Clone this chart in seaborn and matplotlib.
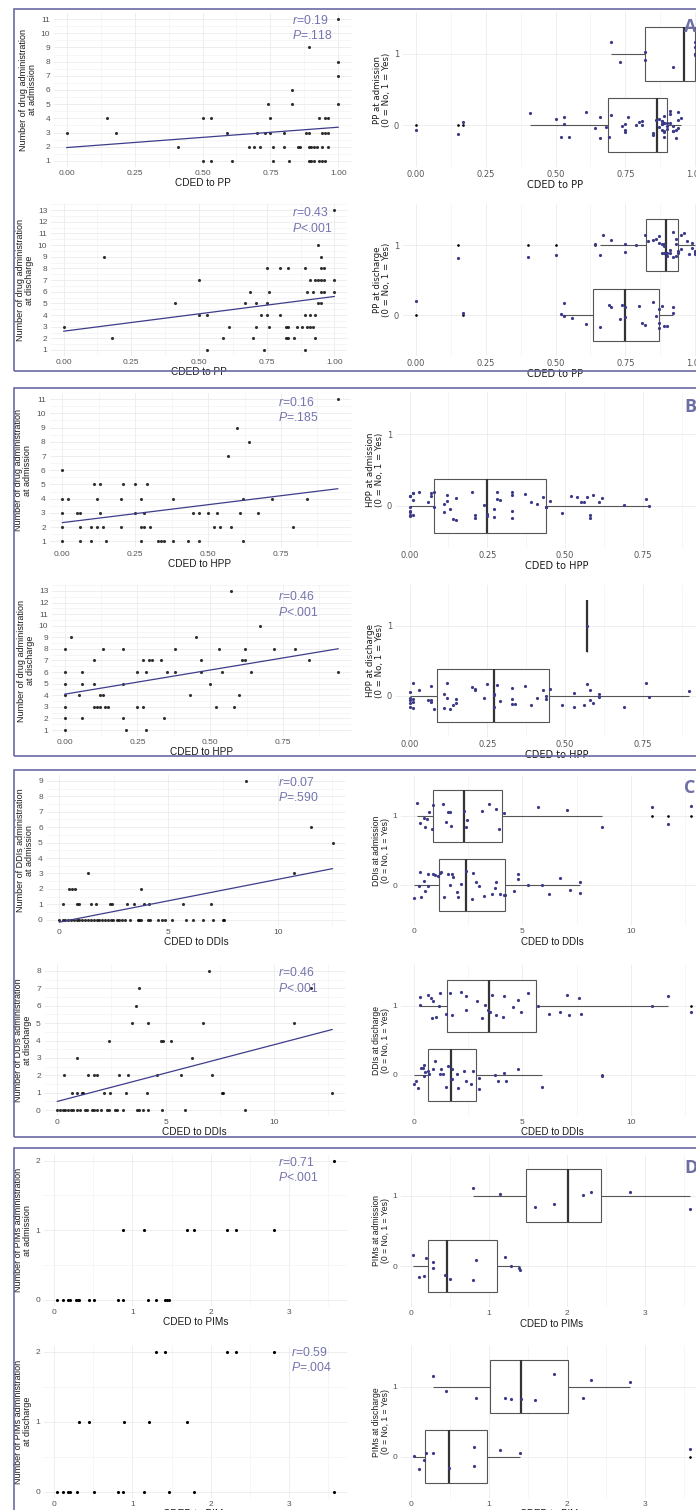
import numpy as np
import pandas as pd
import seaborn as sns
import matplotlib.pyplot as plt
from matplotlib.patches import Rectangle
from matplotlib.ticker import MultipleLocator

# ---------------- data ----------------
# A: CDED to PP
pp_adm_x = [0.00, 0.15, 0.18, 0.41, 0.50, 0.53, 0.50, 0.53, 0.59, 0.61, 0.67, 0.69, 0.71, 0.70, 0.74, 0.73,
            0.75, 0.75, 0.76, 0.76, 0.80, 0.80, 0.82, 0.83, 0.83, 0.85, 0.86, 0.88, 0.89, 0.89, 0.90, 0.91,
            0.92, 0.89, 0.90, 0.91, 0.89, 0.93, 0.93, 0.94, 0.95, 0.94, 0.95, 0.96, 0.94, 0.95, 0.96, 0.96,
            1.00, 1.00, 1.00, 1.00]
pp_adm_y = [3, 4, 3, 2, 4, 4, 1, 1, 3, 1, 2, 2, 2, 3, 5, 3, 3, 4, 2, 1, 3, 2, 1, 6, 5, 2, 2, 3, 3, 2, 2, 2,
            2, 1, 1, 1, 9, 4, 1, 1, 1, 3, 3, 3, 2, 4, 4, 2, 11, 8, 7, 5]
pp_dis_x = [0.00, 0.15, 0.18, 0.41, 0.50, 0.50, 0.53, 0.53, 0.59, 0.61, 0.67, 0.69, 0.70, 0.71, 0.71, 0.73,
            0.74, 0.75, 0.75, 0.75, 0.76, 0.76, 0.80, 0.80, 0.82, 0.83, 0.82, 0.83, 0.83, 0.85, 0.86, 0.88,
            0.89, 0.89, 0.89, 0.90, 0.91, 0.92, 0.90, 0.91, 0.91, 0.92, 0.93, 0.93, 0.93, 0.94, 0.95, 0.96,
            0.94, 0.95, 0.94, 0.95, 0.95, 0.96, 0.95, 0.96, 1.00, 1.00, 1.00]
pp_dis_y = [3, 9, 2, 5, 7, 4, 4, 1, 2, 3, 5, 6, 2, 5, 3, 4, 1, 8, 5, 4, 6, 3, 8, 4, 3, 3, 2, 2, 8, 2, 3, 3,
            8, 4, 1, 3, 3, 3, 6, 4, 7, 6, 4, 2, 7, 7, 7, 7, 10, 9, 5, 5, 8, 8, 6, 6, 13, 7, 6]
pp_adm_yes = [0.70, 0.73, 0.82, 0.82, 0.92, 1.00, 1.00, 1.00, 1.00, 1.00]
pp_adm_no = [0.00, 0.15, 0.17, 0.41, 0.50, 0.52, 0.53, 0.53, 0.55, 0.61, 0.64, 0.66, 0.66, 0.68, 0.69, 0.70,
             0.74, 0.75, 0.75, 0.75, 0.76, 0.79, 0.80, 0.81, 0.81, 0.85, 0.85, 0.86, 0.87, 0.87, 0.88, 0.88,
             0.88, 0.88, 0.88, 0.89, 0.89, 0.89, 0.89, 0.89, 0.89, 0.90, 0.90, 0.90, 0.91, 0.91, 0.91, 0.92,
             0.92, 0.92, 0.93, 0.93, 0.94, 0.94, 0.94, 0.95]
pp_dis_yes = [0.15, 0.40, 0.50, 0.64, 0.66, 0.67, 0.70, 0.75, 0.75, 0.79, 0.82, 0.83, 0.85, 0.86, 0.87, 0.87,
              0.88, 0.88, 0.89, 0.89, 0.89, 0.90, 0.90, 0.91, 0.91, 0.92, 0.92, 0.93, 0.93, 0.93, 0.94, 0.94,
              0.95, 0.95, 0.96, 0.97, 0.98, 0.99, 0.99, 1.00, 1.00, 1.00]
pp_dis_no = [0.00, 0.17, 0.52, 0.53, 0.53, 0.56, 0.61, 0.66, 0.69, 0.70, 0.73, 0.74, 0.75, 0.75, 0.80, 0.81,
             0.82, 0.85, 0.86, 0.87, 0.87, 0.87, 0.88, 0.89, 0.90, 0.92, 0.92]

# B: CDED to HPP
hpp_adm_x = [0.00, 0.00, 0.00, 0.00, 0.00, 0.02, 0.05, 0.06, 0.06, 0.06, 0.10, 0.10, 0.11, 0.12, 0.12, 0.13,
             0.13, 0.14, 0.15, 0.20, 0.20, 0.21, 0.25, 0.25, 0.27, 0.27, 0.28, 0.27, 0.28, 0.29, 0.30, 0.33,
             0.34, 0.35, 0.38, 0.38, 0.43, 0.45, 0.47, 0.47, 0.50, 0.52, 0.53, 0.54, 0.57, 0.58, 0.60, 0.61,
             0.62, 0.62, 0.64, 0.67, 0.72, 0.79, 0.84, 0.945]
hpp_adm_y = [6, 4, 3, 2, 1, 4, 3, 3, 2, 1, 2, 1, 5, 4, 2, 5, 3, 2, 1, 4, 2, 5, 5, 3, 4, 2, 2, 1, 3, 5, 2, 1,
             1, 1, 4, 1, 1, 3, 3, 1, 3, 2, 3, 2, 7, 2, 9, 3, 4, 1, 8, 3, 4, 2, 4, 11]
hpp_dis_x = [0.00, 0.00, 0.00, 0.00, 0.00, 0.00, 0.00, 0.02, 0.05, 0.06, 0.06, 0.06, 0.10, 0.10, 0.10, 0.11,
             0.12, 0.12, 0.13, 0.13, 0.14, 0.15, 0.20, 0.20, 0.20, 0.21, 0.25, 0.25, 0.27, 0.27, 0.28, 0.28,
             0.29, 0.30, 0.33, 0.34, 0.35, 0.38, 0.38, 0.43, 0.45, 0.47, 0.47, 0.50, 0.52, 0.53, 0.54, 0.57,
             0.58, 0.60, 0.61, 0.62, 0.62, 0.64, 0.67, 0.72, 0.79, 0.84, 0.94]
hpp_dis_y = [8, 6, 5, 4, 3, 2, 1, 9, 4, 6, 5, 2, 7, 5, 3, 3, 3, 4, 4, 8, 3, 3, 8, 5, 2, 1, 6, 3, 7, 3, 6, 1,
             7, 7, 7, 2, 6, 8, 6, 4, 9, 7, 6, 5, 3, 8, 6, 13, 3, 4, 7, 7, 8, 6, 10, 8, 8, 7, 6]
hpp_adm_yes = [0.945]
hpp_adm_no = [0.00, 0.00, 0.00, 0.00, 0.00, 0.00, 0.00, 0.01, 0.01, 0.01, 0.01, 0.03, 0.06, 0.07, 0.07, 0.08,
              0.08, 0.11, 0.11, 0.12, 0.12, 0.13, 0.14, 0.15, 0.15, 0.20, 0.21, 0.21, 0.24, 0.25, 0.25, 0.27,
              0.27, 0.28, 0.28, 0.29, 0.33, 0.33, 0.33, 0.33, 0.37, 0.39, 0.41, 0.43, 0.44, 0.44, 0.45, 0.49,
              0.52, 0.54, 0.55, 0.56, 0.57, 0.58, 0.58, 0.59, 0.61, 0.62, 0.69, 0.76, 0.77]
hpp_dis_yes = [0.57]
hpp_dis_no = [0.00, 0.00, 0.00, 0.00, 0.00, 0.01, 0.01, 0.01, 0.01, 0.03, 0.06, 0.07, 0.07, 0.07, 0.08, 0.11,
              0.11, 0.12, 0.12, 0.13, 0.14, 0.15, 0.15, 0.20, 0.21, 0.21, 0.24, 0.25, 0.27, 0.27, 0.27, 0.28,
              0.29, 0.33, 0.33, 0.33, 0.34, 0.37, 0.39, 0.41, 0.43, 0.44, 0.44, 0.45, 0.49, 0.53, 0.53, 0.56,
              0.57, 0.58, 0.58, 0.59, 0.61, 0.61, 0.69, 0.76, 0.77, 0.90]

# C: CDED to DDIs
ddi_adm_x = [0.00, 0.15, 0.27, 0.41, 0.53, 0.67, 0.79, 0.92, 1.04, 1.18, 1.30, 1.44, 1.57, 1.71, 1.83, 1.95,
             2.09, 2.21, 2.35, 2.47, 2.62, 2.75, 2.87, 3.02, 3.24, 3.60, 3.66, 3.72, 4.08, 4.15, 4.53, 4.69,
             4.84, 5.18, 5.80, 6.11, 6.60, 7.02, 7.48, 7.54,
             0.15, 0.82, 0.90, 1.45, 1.69, 2.32, 2.40, 3.10, 3.42, 3.88, 4.12, 5.65, 6.95,
             0.46, 0.56, 0.73, 3.76, 1.31, 10.76, 12.52, 11.53, 8.53]
ddi_adm_y = [0, 0, 0, 0, 0, 0, 0, 0, 0, 0, 0, 0, 0, 0, 0, 0, 0, 0, 0, 0, 0, 0, 0, 0, 0, 0, 0, 0, 0, 0, 0, 0,
             0, 0, 0, 0, 0, 0, 0, 0,
             1, 1, 1, 1, 1, 1, 1, 1, 1, 1, 1, 1, 1,
             2, 2, 2, 2, 3, 3, 5, 6, 9]
ddi_dis_x = [0.00, 0.12, 0.25, 0.37, 0.49, 0.62, 0.74, 0.92, 1.05, 1.28, 1.38, 1.58, 1.71, 1.85, 2.02, 2.28,
             2.38, 2.66, 2.74, 3.02, 3.69, 3.78, 3.94, 4.17, 4.83, 5.89, 8.68,
             0.66, 0.89, 1.12, 1.20, 2.17, 2.43, 3.15, 4.12, 7.62, 7.66, 12.69,
             0.31, 1.43, 1.71, 1.82, 2.85, 3.28, 4.58, 5.71, 7.15,
             0.89, 6.20, 2.40, 4.78, 4.89, 5.25, 3.45, 4.17, 6.71, 10.92, 3.63, 3.78, 11.69, 7.02]
ddi_dis_y = [0, 0, 0, 0, 0, 0, 0, 0, 0, 0, 0, 0, 0, 0, 0, 0, 0, 0, 0, 0, 0, 0, 0, 0, 0, 0, 0,
             1, 1, 1, 1, 1, 1, 1, 1, 1, 1, 1,
             2, 2, 2, 2, 2, 2, 2, 2, 2,
             3, 3, 4, 4, 4, 4, 5, 5, 5, 5, 6, 7, 7, 8]
ddi_adm_yes = [0.12, 0.30, 0.48, 0.51, 0.60, 0.69, 0.84, 0.89, 1.32, 1.46, 1.58, 1.67, 1.69, 2.32, 2.38, 2.43,
               3.15, 3.46, 3.76, 3.92, 4.16, 5.73, 7.07, 8.68, 10.97, 11.72, 12.75]
ddi_adm_no = [0.00, 0.23, 0.28, 0.35, 0.46, 0.51, 0.63, 0.66, 0.89, 0.97, 1.12, 1.20, 1.27, 1.38, 1.58, 1.66,
              1.74, 1.81, 1.97, 2.04, 2.17, 2.38, 2.66, 2.73, 2.86, 3.00, 3.24, 3.61, 3.73, 3.76, 3.96, 4.16,
              4.19, 4.61, 4.78, 4.81, 5.24, 5.91, 6.22, 6.73, 7.19, 7.65, 7.65]
ddi_dis_yes = [0.28, 0.28, 0.66, 0.81, 0.84, 0.86, 1.04, 1.14, 1.22, 1.46, 1.66, 1.74, 2.15, 2.38, 2.40, 2.89,
               3.12, 3.27, 3.43, 3.50, 3.62, 3.78, 4.12, 4.16, 4.55, 4.78, 4.92, 5.24, 5.73, 6.22, 6.73, 7.04,
               7.16, 7.62, 7.68, 10.98, 11.72, 12.75]
ddi_dis_no = [0.00, 0.09, 0.20, 0.32, 0.43, 0.46, 0.48, 0.51, 0.63, 0.69, 0.86, 0.97, 1.20, 1.27, 1.35, 1.46,
              1.58, 1.69, 1.74, 1.74, 2.00, 2.04, 2.32, 2.38, 2.63, 2.73, 3.00, 3.00, 3.73, 3.89, 4.16, 4.22,
              4.81, 5.88, 8.68]

# D: CDED to PIMs
pim_adm_x = [0.04, 0.12, 0.18, 0.20, 0.28, 0.30, 0.32, 0.45, 0.51, 0.81, 0.88, 1.20, 1.30, 1.41, 1.44, 1.47,
             0.88, 1.15, 1.70, 1.78, 2.20, 2.32, 2.81, 3.57]
pim_adm_y = [0, 0, 0, 0, 0, 0, 0, 0, 0, 0, 0, 0, 0, 0, 0, 0, 1, 1, 1, 1, 1, 1, 1, 2]
pim_dis_x = [0.04, 0.12, 0.18, 0.20, 0.29, 0.51, 0.81, 0.88, 1.15, 1.47, 1.78, 3.57,
             0.32, 0.45, 0.89, 1.21, 1.70, 1.30, 1.42, 2.20, 2.32, 2.81]
pim_dis_y = [0, 0, 0, 0, 0, 0, 0, 0, 0, 0, 0, 0, 1, 1, 1, 1, 1, 2, 2, 2, 2, 2]
pim_adm_yes = [0.80, 1.14, 1.59, 1.83, 2.20, 2.31, 2.81, 3.57]
pim_adm_no = [0.03, 0.11, 0.17, 0.20, 0.28, 0.28, 0.44, 0.50, 0.80, 0.83, 1.20, 1.28, 1.39, 1.40]
pim_dis_yes = [0.29, 0.45, 0.83, 1.20, 1.28, 1.41, 1.59, 1.83, 2.20, 2.31, 2.81]
pim_dis_no = [0.04, 0.11, 0.17, 0.20, 0.28, 0.49, 0.81, 0.81, 1.14, 1.40, 3.57]

stats_text = [("0.19", "=.118"), ("0.43", "<.001"), ("0.16", "=.185"), ("0.46", "<.001"),
              ("0.07", "=.590"), ("0.46", "<.001"), ("0.71", "<.001"), ("0.59", "=.004")]

# ---------------- style ----------------
W, H = 696, 1510
LINE = "#3d3d8c"
DOT = "#3b3b88"
NOTE = "#7474b0"
FRAME = "#6a6aa4"
TICK = "#555555"

sns.set_theme(style="whitegrid", rc={
    "axes.edgecolor": "white", "grid.color": "#ebebeb", "grid.linewidth": 0.6,
    "xtick.color": TICK, "ytick.color": TICK,
    "xtick.labelsize": 6, "ytick.labelsize": 6,
    "xtick.major.size": 0, "ytick.major.size": 0,
    "xtick.minor.size": 0, "ytick.minor.size": 0,
    "xtick.major.pad": 1.5, "ytick.major.pad": 2,
    "axes.labelcolor": "#1a1a1a",
})
plt.rcParams["font.family"] = ["Liberation Sans", "DejaVu Sans"]
plt.rcParams["mathtext.fontset"] = "custom"
plt.rcParams["mathtext.it"] = "Liberation Sans:italic"
plt.rcParams["mathtext.rm"] = "Liberation Sans"
np.random.seed(7)

fig = plt.figure(figsize=(W / 100, H / 100), dpi=100)


def px_axes(l, t, r, b):
    return fig.add_axes([l / W, 1 - b / H, (r - l) / W, (b - t) / H])


def set_fonts(ax, fam, xl_size, yl_size):
    for lab in ax.get_xticklabels() + ax.get_yticklabels():
        lab.set_fontfamily(fam)
    ax.xaxis.label.set_fontfamily(fam)
    ax.yaxis.label.set_fontfamily(fam)
    ax.xaxis.label.set_fontsize(xl_size)
    ax.yaxis.label.set_fontsize(yl_size)


def scatter_panel(box, x, y, fit, xlim, ylim, xticks, xfmt, yticks, xlabel, ylabel):
    ax = px_axes(*box)
    if fit:
        sns.regplot(x=np.array(x), y=np.array(y), ci=None, ax=ax, color="black",
                    scatter_kws=dict(s=5, linewidths=0),
                    line_kws=dict(color=LINE, linewidth=0.9))
    else:
        sns.scatterplot(x=x, y=y, ax=ax, color="black", s=5, linewidth=0)
    ax.set_xlim(*xlim)
    ax.set_ylim(*ylim)
    ax.set_xticks(xticks)
    ax.set_xticklabels([xfmt.format(v) for v in xticks])
    ax.set_yticks(yticks)
    ax.set_yticklabels([str(v) for v in yticks])
    ax.xaxis.set_minor_locator(MultipleLocator((xticks[1] - xticks[0]) / 2))
    ax.yaxis.set_minor_locator(MultipleLocator((yticks[1] - yticks[0]) / 2))
    ax.grid(which="minor", color="#f3f3f3", linewidth=0.5)
    ax.set_axisbelow(True)
    ax.set_xlabel(xlabel, labelpad=1)
    ax.set_ylabel(ylabel, labelpad=3, linespacing=1.0)
    set_fonts(ax, ["Liberation Sans", "DejaVu Sans"], 7.2, 6.5)
    return ax


def box_panel(box, yes, no, xlim, xticks, xfmt, xlabel, ylabel, fam):
    ax = px_axes(*box)
    df = pd.DataFrame({"cded": yes + no, "grp": ["1"] * len(yes) + ["0"] * len(no)})
    sns.boxplot(data=df, x="cded", y="grp", order=["1", "0"], orient="h", width=0.75,
                color="white", linecolor="#555555", linewidth=0.8, fliersize=0.9,
                showcaps=False, whis=1.5,
                medianprops=dict(color="#333333", linewidth=1.6),
                flierprops=dict(marker="o", markerfacecolor="black", markeredgecolor="black"),
                ax=ax)
    sns.stripplot(data=df, x="cded", y="grp", order=["1", "0"], orient="h", jitter=0.2,
                  color=DOT, size=2.3, linewidth=0, ax=ax)
    ax.set_xlim(*xlim)
    ax.set_ylim(1.6, -0.6)
    ax.set_xticks(xticks)
    ax.set_xticklabels([xfmt.format(v) for v in xticks])
    ax.xaxis.set_minor_locator(MultipleLocator((xticks[1] - xticks[0]) / 2))
    ax.grid(which="minor", axis="x", color="#f3f3f3", linewidth=0.5)
    ax.yaxis.grid(True)
    ax.set_axisbelow(True)
    ax.set_xlabel(xlabel, labelpad=1)
    ax.set_ylabel(ylabel, labelpad=2, linespacing=1.0)
    set_fonts(ax, fam, 7.0, 6.2)
    return ax


def note(x, y, r_val, p_val):
    fig.text(x / W, 1 - y / H, r"$\it{r}$=" + r_val, color=NOTE, fontsize=8.8, va="center")
    fig.text(x / W, 1 - (y + 15.5) / H, r"$\it{P}$" + p_val, color=NOTE, fontsize=8.8, va="center")


DV = ["DejaVu Sans"]
LS = ["Liberation Sans", "DejaVu Sans"]
t_pp = [0, 0.25, 0.5, 0.75, 1.0]
t_hpp = [0, 0.25, 0.5, 0.75]

# A
scatter_panel((53, 12, 352, 168), pp_adm_x, pp_adm_y, True, (-0.05, 1.05), (0.5, 11.5), t_pp, "{:.2f}",
              list(range(1, 12)), "CDED to PP", "Number of drug administration\nat admission")
scatter_panel((50, 203, 348, 357), pp_dis_x, pp_dis_y, True, (-0.05, 1.05), (0.4, 13.6), t_pp, "{:.2f}",
              list(range(1, 14)), "CDED to PP", "Number of drug administration\nat discharge")
box_panel((402, 11, 709, 168), pp_adm_yes, pp_adm_no, (-0.05, 1.05), t_pp, "{:.2f}", "CDED to PP",
          "PP at admission\n(0 = No, 1 = Yes)", DV)
box_panel((402, 203, 709, 357), pp_dis_yes, pp_dis_no, (-0.05, 1.05), t_pp, "{:.2f}", "CDED to PP",
          "PP at discharge\n(0 = No, 1 = Yes)", DV)

# B
scatter_panel((48.5, 392, 351.6, 548.5), hpp_adm_x, hpp_adm_y, True, (-0.047, 0.992), (0.5, 11.5), t_hpp,
              "{:.2f}", list(range(1, 12)), "CDED to HPP", "Number of drug administration\nat admission")
scatter_panel((51, 584, 352, 737), hpp_dis_x, hpp_dis_y, True, (-0.047, 0.987), (0.4, 13.6), t_hpp,
              "{:.2f}", list(range(1, 14)), "CDED to HPP", "Number of drug administration\nat discharge")
box_panel((395, 391, 718, 549), hpp_adm_yes, hpp_adm_no, (-0.047, 0.992), t_hpp, "{:.2f}", "CDED to HPP",
          "HPP at admission\n(0 = No, 1 = Yes)", DV)
box_panel((395, 584, 718, 737.5), hpp_dis_yes, hpp_dis_no, (-0.047, 0.992), t_hpp, "{:.2f}", "CDED to HPP",
          "HPP at discharge\n(0 = No, 1 = Yes)", DV)

# C
scatter_panel((45.6, 774, 346.4, 926.6), ddi_adm_x, ddi_adm_y, True, (-0.63, 13.15), (-0.45, 9.45), [0, 5, 10],
              "{:d}", list(range(0, 10)), "CDED to DDIs", "Number of DDIs administration\nat admission")
scatter_panel((43.6, 964, 346, 1117), ddi_dis_x, ddi_dis_y, True, (-0.63, 13.32), (-0.4, 8.4), [0, 5, 10],
              "{:d}", list(range(0, 9)), "CDED to DDIs", "Number of DDIs administration\nat discharge")
box_panel((400, 774.6, 704.6, 926.4), ddi_adm_yes, ddi_adm_no, (-0.64, 13.39), [0, 5, 10], "{:d}",
          "CDED to DDIs", "DDIs at admission\n(0 = No, 1 = Yes)", LS)
box_panel((400, 964, 704.6, 1116.6), ddi_dis_yes, ddi_dis_no, (-0.64, 13.39), [0, 5, 10], "{:d}",
          "CDED to DDIs", "DDIs at discharge\n(0 = No, 1 = Yes)", LS)

# D
scatter_panel((43.3, 1153.7, 347.8, 1306.6), pim_adm_x, pim_adm_y, False, (-0.137, 3.747), (-0.1, 2.1),
              [0, 1, 2, 3], "{:d}", [0, 1, 2], "CDED to PIMs", "Number of PIMs administration\nat admission")
scatter_panel((43.3, 1344.7, 347.8, 1498.7), pim_dis_x, pim_dis_y, False, (-0.137, 3.747), (-0.1, 2.1),
              [0, 1, 2, 3], "{:d}", [0, 1, 2], "CDED to PIMs", "Number of PIMs administration\nat discharge")
box_panel((400, 1153.5, 703.6, 1308.2), pim_adm_yes, pim_adm_no, (-0.137, 3.747), [0, 1, 2, 3], "{:d}",
          "CDED to PIMs", "PIMs at admission\n(0 = No, 1 = Yes)", LS)
box_panel((400, 1344.7, 703.6, 1498.7), pim_dis_yes, pim_dis_no, (-0.137, 3.747), [0, 1, 2, 3], "{:d}",
          "CDED to PIMs", "PIMs at discharge\n(0 = No, 1 = Yes)", LS)

# r / P annotations
note_pos = [(292, 20), (292, 213), (278, 402), (278, 597), (278, 782), (278, 973), (278, 1162), (291, 1352)]
for (nx, ny), (rv, pv) in zip(note_pos, stats_text):
    note(nx, ny, rv, pv)

# panel frames and letters
frames = [(9, 371, "A", 27), (388, 756, "B", 407), (770, 1137, "C", 788), (1148, 1530, "D", 1168)]
for top, bot, letter, ly in frames:
    fig.add_artist(Rectangle((14 / W, 1 - bot / H), 720 / W, (bot - top) / H, transform=fig.transFigure,
                             fill=False, edgecolor=FRAME, linewidth=1.2))
    fig.text(684 / W, 1 - ly / H, letter, fontsize=13, fontweight="bold", color="#6e6ea6",
             va="center", ha="left", family=["Open Sans", "DejaVu Sans"])

fig.savefig("out.png", dpi=100)
